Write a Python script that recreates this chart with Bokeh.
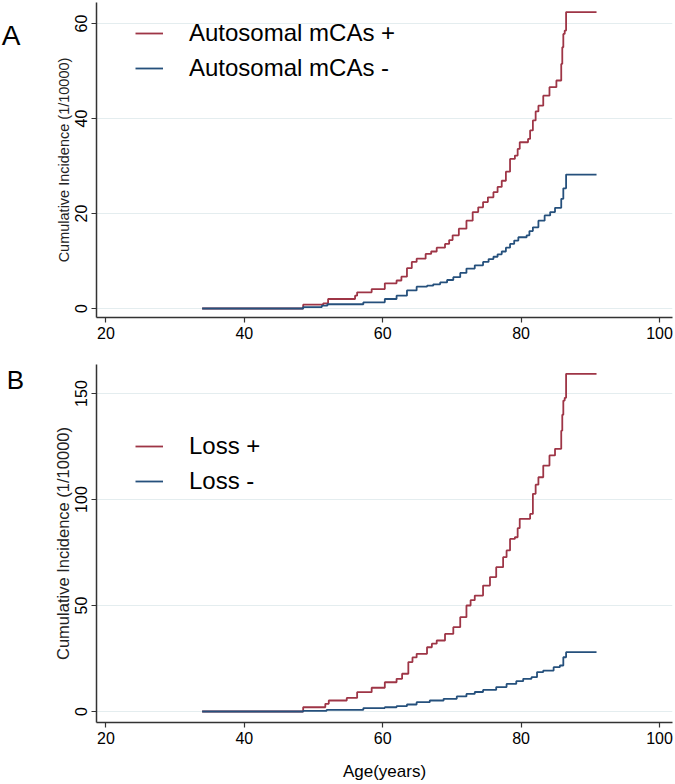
from bokeh.plotting import figure
from bokeh.layouts import column, row
from bokeh.models import (Range1d, FixedTicker, Legend, LegendItem, Label)
from bokeh.embed import file_html
from bokeh.resources import INLINE

# ---------------- data ----------------
x_ticks = [20, 40, 60, 80, 100]
ya_ticks = [0, 20, 40, 60]
yb_ticks = [0, 50, 100, 150]

# Panel A: autosomal mCAs
a_pos_age = [33.9, 48.5, 51.4, 52.1, 56.0, 56.3, 58.4, 60.3, 62.0, 62.7, 63.5, 64.2, 64.9,
             66.2, 67.0, 67.8, 69.0, 69.6, 70.1, 71.0, 72.1, 73.0, 73.8, 74.5, 75.2, 76.0,
             76.6, 77.2, 77.8, 78.4, 79.1, 79.5, 79.8, 81.0, 81.3, 81.7, 82.1, 82.5, 83.2,
             84.1, 85.1, 85.8, 85.95, 86.1, 86.3, 86.5, 90.9]
a_pos_val = [0.0, 0.8, 1.1, 2.0, 2.7, 3.4, 4.1, 5.3, 5.9, 6.7, 8.5, 9.8, 10.5,
             11.5, 12.0, 12.8, 13.6, 14.4, 15.4, 16.8, 18.5, 20.3, 21.3, 22.4, 23.4, 24.5,
             25.6, 26.9, 28.8, 31.5, 32.2, 33.6, 35.0, 35.7, 37.5, 39.6, 41.5, 42.7, 44.8,
             46.6, 48.0, 51.5, 55.0, 57.8, 58.5, 62.4, 62.4]

a_neg_age = [33.9, 48.5, 51.2, 52.0, 57.2, 60.3, 62.0, 63.5, 64.9, 66.4, 67.3, 68.3, 69.3,
             70.2, 71.2, 72.1, 73.3, 74.5, 75.3, 76.0, 76.6, 77.2, 77.8, 78.4, 79.0, 79.6,
             80.8, 81.2, 81.7, 82.5, 83.4, 84.2, 84.9, 85.8, 86.1, 86.5, 90.9]
a_neg_val = [0.0, 0.3, 0.6, 0.9, 1.3, 2.0, 2.7, 3.8, 4.6, 4.8, 5.1, 5.5, 6.0,
             6.6, 7.5, 8.4, 9.1, 9.8, 10.4, 10.9, 11.4, 12.0, 12.8, 13.6, 14.3, 15.0,
             15.4, 16.3, 17.1, 18.5, 19.6, 20.3, 21.2, 23.1, 25.3, 28.2, 28.2]

# Panel B: loss
b_pos_age = [33.9, 48.5, 51.7, 52.2, 54.8, 56.3, 58.4, 60.3, 62.0, 62.8, 63.7, 64.3, 64.9,
             66.4, 67.1, 67.8, 69.0, 70.2, 71.2, 72.1, 72.7, 73.3, 74.5, 75.5, 76.4, 77.4,
             77.9, 78.4, 79.1, 79.5, 79.8, 81.3, 81.7, 82.1, 82.5, 83.2, 84.1, 84.9, 85.8,
             85.95, 86.1, 86.3, 86.5, 90.9]
b_pos_val = [0.0, 2.0, 3.6, 5.2, 6.4, 9.1, 11.2, 13.8, 15.4, 17.8, 23.3, 25.5, 27.2,
             30.3, 32.0, 33.5, 36.6, 39.8, 44.5, 50.0, 52.5, 54.7, 59.4, 63.4, 68.1, 72.8,
             76.0, 81.4, 82.2, 86.5, 90.9, 93.2, 102.7, 107.0, 110.5, 116.0, 120.8, 123.9, 132.5,
             140.0, 146.7, 148.0, 159.3, 159.3]

b_neg_age = [33.9, 48.5, 51.9, 57.2, 60.3, 62.0, 63.5, 64.9, 66.8, 68.8, 70.7, 72.1, 73.3,
             74.5, 76.4, 77.9, 79.3, 80.3, 81.5, 82.3, 83.2, 84.7, 85.6, 86.1, 86.5, 90.9]
b_neg_val = [0.0, 0.3, 0.8, 1.6, 2.0, 2.5, 3.3, 4.4, 5.2, 6.0, 7.1, 8.3, 9.2,
             10.2, 11.5, 13.0, 14.3, 15.4, 16.2, 18.6, 19.3, 20.9, 21.7, 25.6, 28.0, 28.0]

RED = "#9e3546"
BLUE = "#25507c"
FONT = "Liberation Sans"
GRID = "#e4edef"
AXC = "#333333"
LETTER_W = 24


def letter_fig(height, frame_bottom, letter, lx, ly_from_top, size):
    # frames in a row are aligned, so this figure's frame matches the panel's frame
    f = figure(width=LETTER_W, height=height, output_backend="svg", toolbar_location=None,
               x_range=Range1d(0, 1), y_range=Range1d(0, 1),
               x_axis_type=None, y_axis_type=None, min_border=0)
    f.outline_line_color = None
    f.xgrid.grid_line_color = None
    f.ygrid.grid_line_color = None
    f.add_layout(Label(x=lx, y=frame_bottom - ly_from_top, x_units="screen", y_units="screen",
                       text=letter, text_font=FONT, text_font_size=size,
                       text_align="center", text_baseline="middle", text_color="black"))
    return f


def make_panel(height, mb_top, mb_bottom, y_start, y_end, yticks, ylab_size,
               pos_age, pos_val, neg_age, neg_val, pos_label, neg_label,
               legend_vy, xlabel=None):
    p = figure(width=675 - LETTER_W, height=height, output_backend="svg", toolbar_location=None,
               x_range=Range1d(18.63, 101.88), y_range=Range1d(y_start, y_end),
               min_border_left=96 - LETTER_W, min_border_right=3, min_border_top=mb_top,
               min_border_bottom=mb_bottom)
    p.outline_line_color = None
    p.background_fill_color = "white"
    p.border_fill_color = "white"
    p.xgrid.grid_line_color = None
    p.ygrid.grid_line_color = GRID
    p.ygrid.grid_line_width = 1

    r1 = p.step(pos_age, pos_val, mode="after", line_color=RED, line_width=1.8)
    r2 = p.step(neg_age, neg_val, mode="after", line_color=BLUE, line_width=1.8)

    p.xaxis.ticker = FixedTicker(ticks=x_ticks)
    p.yaxis.ticker = FixedTicker(ticks=yticks)
    for ax in (p.xaxis[0], p.yaxis[0]):
        ax.axis_line_color = AXC
        ax.axis_line_width = 1.5
        ax.major_tick_line_color = AXC
        ax.major_tick_line_width = 1.2
        ax.major_tick_out = 5
        ax.major_tick_in = 0
        ax.minor_tick_line_color = None
        ax.major_label_text_font = FONT
        ax.major_label_text_font_size = "16px"
        ax.major_label_text_color = "black"
    p.xaxis.major_label_standoff = 4
    p.yaxis.major_label_standoff = 4
    p.yaxis.major_label_orientation = "vertical"
    p.yaxis.axis_label = "Cumulative Incidence (1/10000)"
    p.yaxis.axis_label_text_font = FONT
    p.yaxis.axis_label_text_font_size = ylab_size
    p.yaxis.axis_label_text_font_style = "normal"
    p.yaxis.axis_label_text_color = "#222222"
    p.yaxis.axis_label_standoff = 1
    if xlabel:
        p.xaxis.axis_label = xlabel
        p.xaxis.axis_label_text_font = FONT
        p.xaxis.axis_label_text_font_size = "17px"
        p.xaxis.axis_label_text_font_style = "normal"
        p.xaxis.axis_label_text_color = "black"
        p.xaxis.axis_label_standoff = 15

    leg = Legend(items=[LegendItem(label=pos_label, renderers=[r1]),
                        LegendItem(label=neg_label, renderers=[r2])],
                 location=(39, legend_vy), orientation="vertical")
    leg.border_line_color = None
    leg.background_fill_alpha = 0
    leg.padding = 0
    leg.margin = 0
    leg.spacing = 7
    leg.glyph_width = 28
    leg.glyph_height = 28
    leg.label_height = 28
    leg.label_standoff = 26
    leg.label_text_font = FONT
    leg.label_text_font_size = "24px"
    leg.label_text_color = "black"
    p.add_layout(leg, "center")
    return p


HA, HB = 345, 439
MBA, MBB = 28, 62
pa = make_panel(HA, 2, MBA, -1.89, 64.42, ya_ticks, "14.5px",
                a_pos_age, a_pos_val, a_neg_age, a_neg_val,
                "Autosomal mCAs +", "Autosomal mCAs -", 235)
pb = make_panel(HB, 19, MBB, -5.19, 163.7, yb_ticks, "16.5px",
                b_pos_age, b_pos_val, b_neg_age, b_neg_val,
                "Loss +", "Loss -", 227, xlabel="Age(years)")
la = letter_fig(HA, HA - MBA, "A", 10.5, 35, "28px")
lb = letter_fig(HB, HB - MBB, "B", 15, 379 - HA, "26px")

layout = column(row(la, pa, spacing=0), row(lb, pb, spacing=0), spacing=0)
open("out.html", "w").write(file_html(layout, INLINE))
